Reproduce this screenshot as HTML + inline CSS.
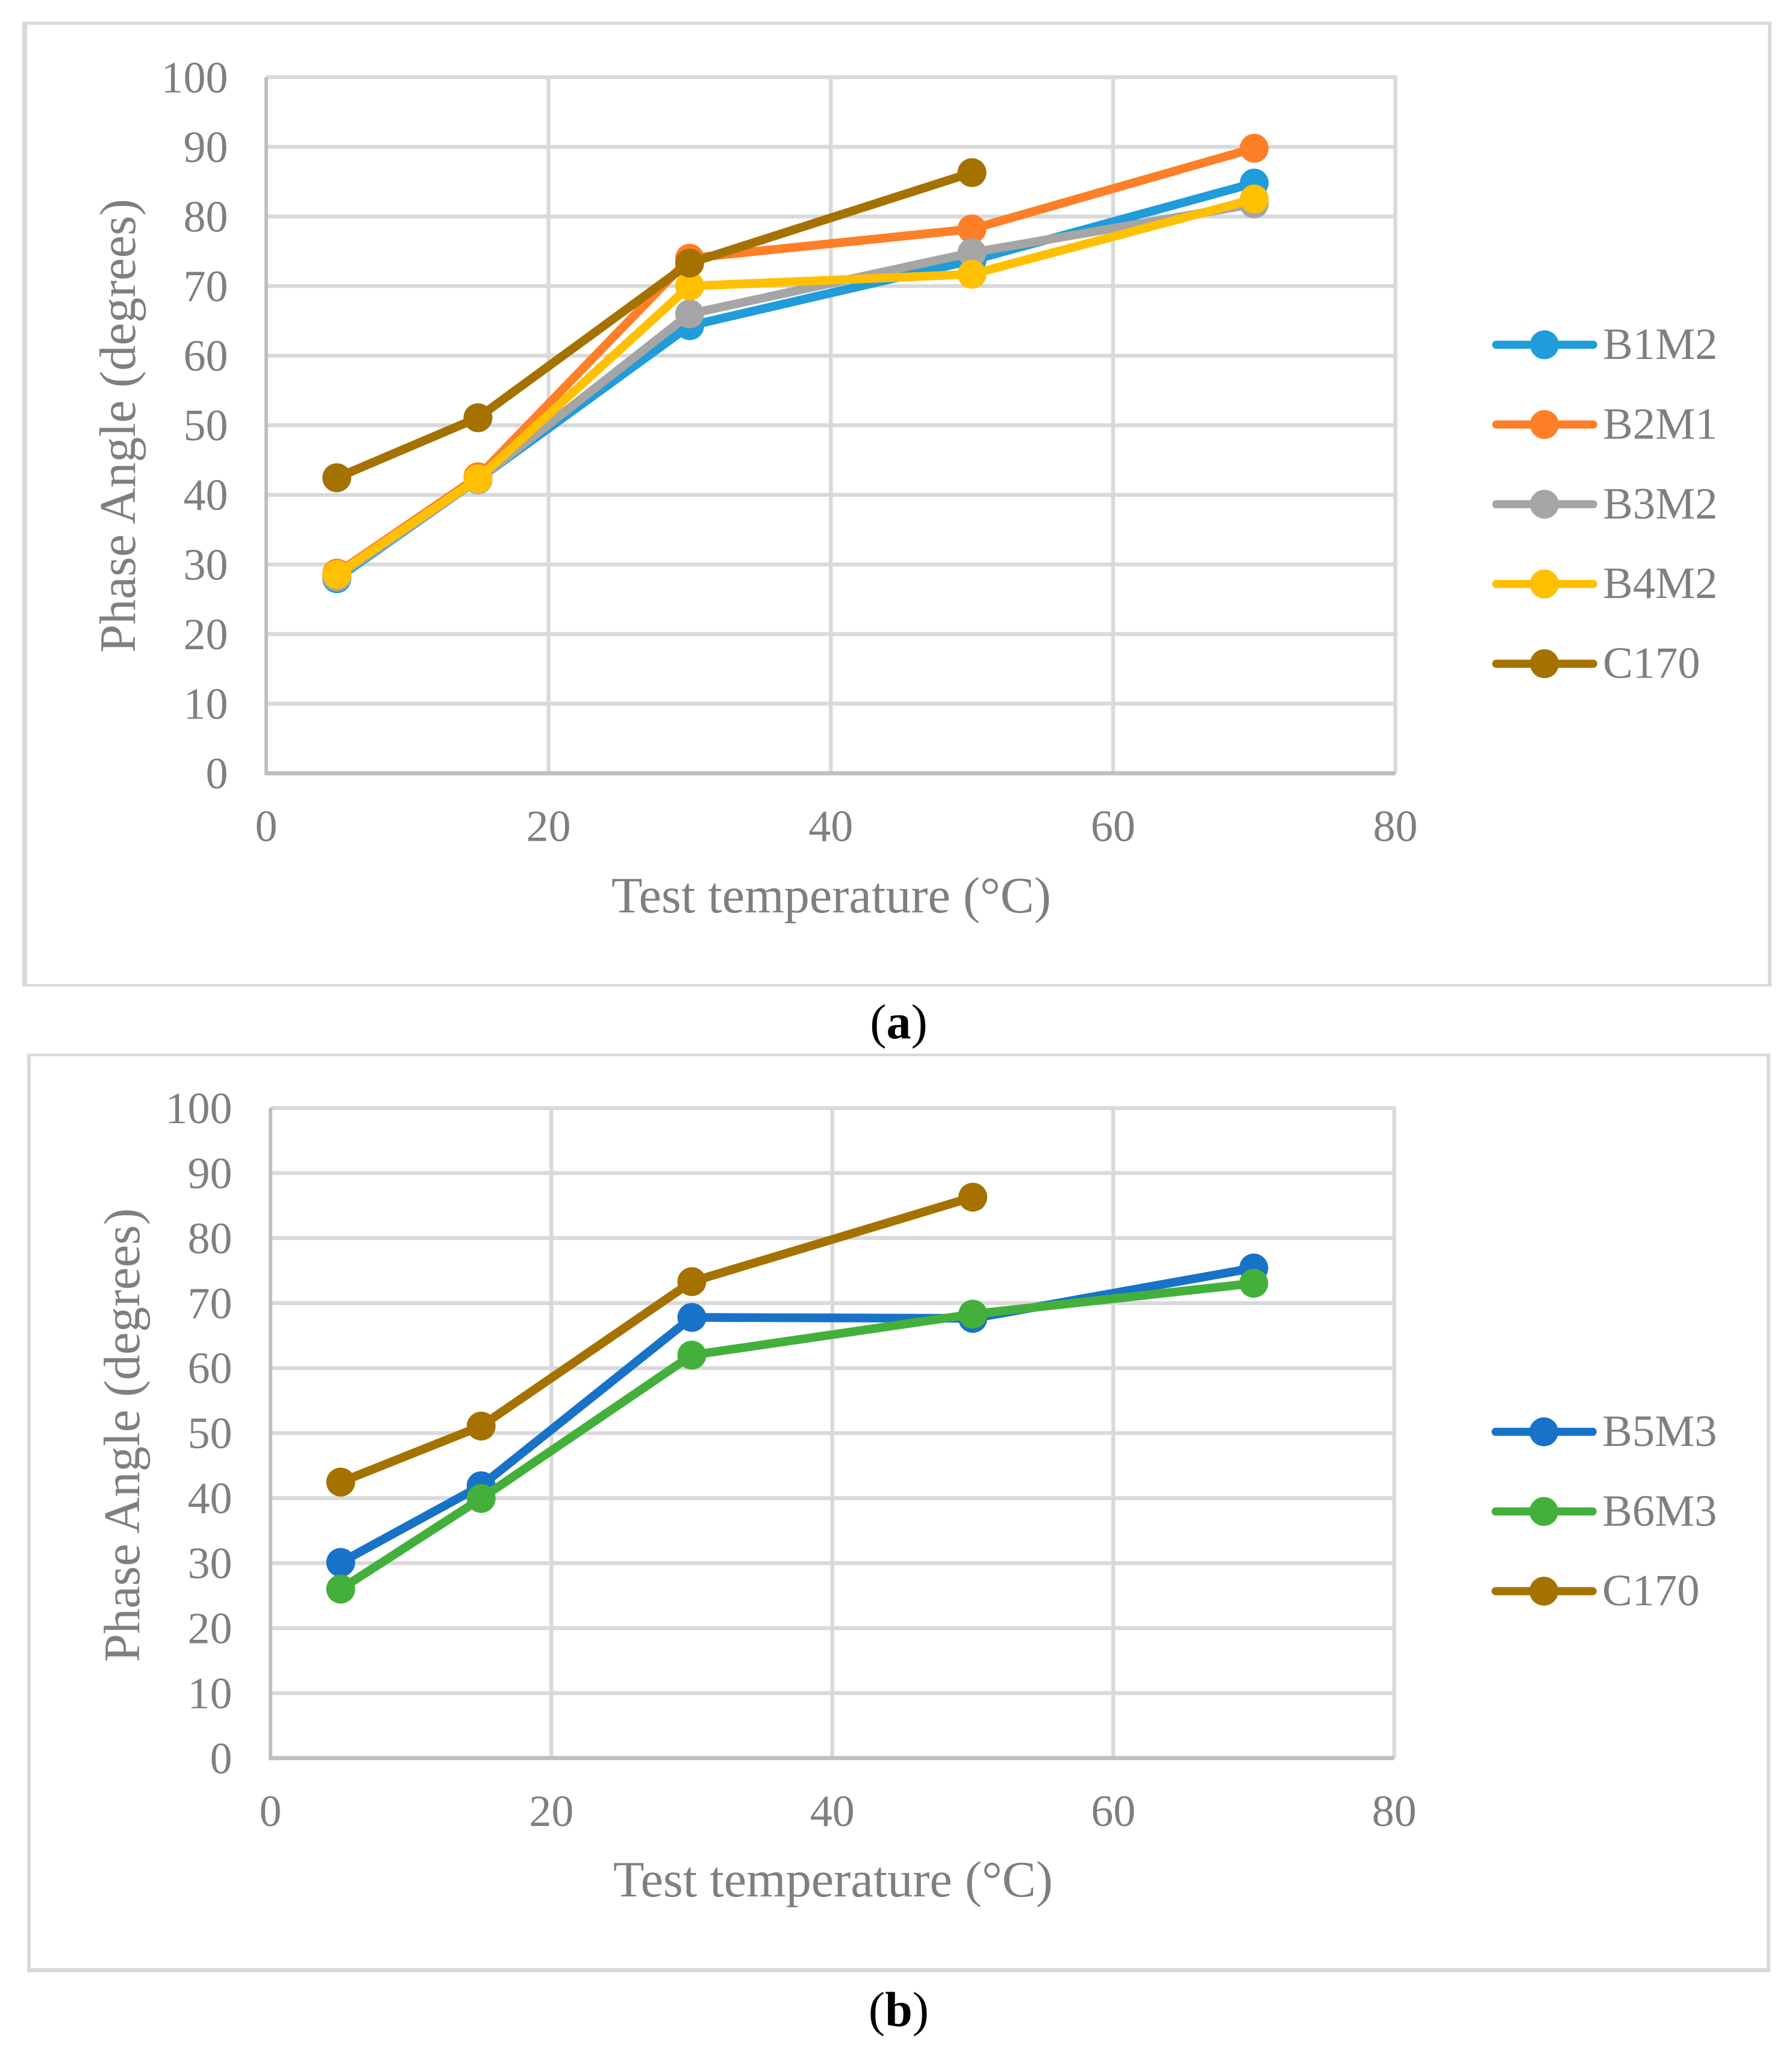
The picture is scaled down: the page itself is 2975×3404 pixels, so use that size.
<!DOCTYPE html>
<html lang="en">
<head>
<meta charset="utf-8">
<title>Phase Angle vs Test Temperature</title>
<style>
  html, body { margin: 0; padding: 0; background: #ffffff; }
  #figure { display: block; width: 2975px; height: 3404px; }
  text { font-family: "Liberation Serif", serif; fill: #7f7f7f; }
  .tick { font-size: 74px; }
  .axis-title { font-size: 84.3px; }
  .legend-text { font-size: 74.5px; }
  .caption { font-size: 82px; fill: #000000; text-anchor: middle; }
  .caption tspan { font-weight: bold; }
</style>
</head>
<body>
<svg id="figure" xmlns="http://www.w3.org/2000/svg" width="2975" height="3404" viewBox="0 0 2975 3404">
  <rect x="0" y="0" width="2975" height="3404" fill="#ffffff"/>
  <g id="chart-a"></g>
  <g id="chart-b"></g>
  <text class="axis-title" x="1380" y="1515" text-anchor="middle">Test temperature (°C)</text>
  <text class="axis-title" transform="translate(224 707) rotate(-90)" text-anchor="middle">Phase Angle (degrees)</text>
  <text class="caption" x="1492" y="1724">(<tspan>a</tspan>)</text>
  <text class="axis-title" x="1383" y="3149" text-anchor="middle">Test temperature (°C)</text>
  <text class="axis-title" transform="translate(231 2383) rotate(-90)" text-anchor="middle">Phase Angle (degrees)</text>
  <text class="caption" x="1492" y="3364">(<tspan>b</tspan>)</text>
</svg>
<script>
// ---- chart data ----
const temperatures = [5, 15, 30, 50, 70];
const xTickLabels = [0, 20, 40, 60, 80];
const yTickLabels = [0, 10, 20, 30, 40, 50, 60, 70, 80, 90, 100];

const seriesB1M2 = [27.95, 42.2, 64.3, 73.7, 84.8];
const seriesB2M1 = [28.75, 42.6, 74.0, 78.2, 89.8];
const seriesB3M2 = [28.2, 42.15, 66.0, 74.8, 81.8];
const seriesB4M2 = [28.55, 42.3, 70.0, 71.7, 82.5];
const seriesC170 = [42.46, 51.08, 73.3, 86.3];
const seriesB5M3 = [30.1, 41.9, 67.8, 67.65, 75.4];
const seriesB6M3 = [26.0, 39.95, 62.0, 68.3, 73.05];

const namesA = ["B1M2", "B2M1", "B3M2", "B4M2", "C170"];
const namesB = ["B5M3", "B6M3", "C170"];
const valuesA = [seriesB1M2, seriesB2M1, seriesB3M2, seriesB4M2, seriesC170];
const valuesB = [seriesB5M3, seriesB6M3, seriesC170];

// ---- styles ----
const seriesColors = {
  B1M2: "#1f9cd9", B2M1: "#fe7f27", B3M2: "#a5a5a5", B4M2: "#ffc000",
  C170: "#a57200", B5M3: "#1872c8", B6M3: "#43b03b"
};
const NS = "http://www.w3.org/2000/svg";

function make(parent, tag, attrs, text) {
  const el = document.createElementNS(NS, tag);
  for (const k in attrs) el.setAttribute(k, attrs[k]);
  if (text !== undefined) el.textContent = text;
  parent.appendChild(el);
  return el;
}

function drawChart(root, layout, names, values) {
  const sx = function (v) { return layout.x0 + (layout.x80 - layout.x0) * v / 80; };
  const sy = function (v) { return layout.y0 + (layout.y100 - layout.y0) * v / 100; };

  // frame
  const f = layout.frame;
  const frameParts = [
    [f.l0, f.t0, f.r1 - f.l0, f.t1 - f.t0],
    [f.l0, f.b0, f.r1 - f.l0, f.b1 - f.b0],
    [f.l0, f.t0, f.l1 - f.l0, f.b1 - f.t0],
    [f.r0, f.t0, f.r1 - f.r0, f.b1 - f.t0]
  ];
  frameParts.forEach(function (p) {
    const r = make(root, "rect", { x: p[0], y: p[1], width: p[2], height: p[3], fill: "#d9d9d9" });
    
    
  });

  // horizontal gridlines
  yTickLabels.forEach(function (v) {
    if (v === 0) return;
    const l = make(root, "line", { x1: sx(0), x2: sx(80), y1: sy(v), y2: sy(v), stroke: "#d9d9d9", "stroke-width": 6.5 });
    
    
  });
  // vertical gridlines
  xTickLabels.forEach(function (v) {
    if (v === 0) return;
    const l = make(root, "line", { x1: sx(v), x2: sx(v), y1: sy(100) - 3.2, y2: sy(0), stroke: "#d9d9d9", "stroke-width": 6.4 });
    
    
  });
  // axes
  const ya = make(root, "line", { x1: sx(0), x2: sx(0), y1: sy(100), y2: sy(0) + 3.4, stroke: "#bfbfbf", "stroke-width": 6 });
  
  
  const xa = make(root, "line", { x1: sx(0), x2: sx(80), y1: sy(0), y2: sy(0), stroke: "#bfbfbf", "stroke-width": 7 });
  
  

  // tick labels
  yTickLabels.forEach(function (v) {
    const t = make(root, "text", { class: "tick", x: sx(0) - 63.5, y: sy(v) + 25, "text-anchor": "end" }, String(v));
    
    
  });
  xTickLabels.forEach(function (v) {
    const t = make(root, "text", { class: "tick", x: sx(v), y: sy(0) + 112.5, "text-anchor": "middle" }, String(v));
    
    
  });

  // series
  names.forEach(function (name, i) {
    const color = seriesColors[name];
    const vals = values[i];
    const g = make(root, "g", {});
    
    
    const pts = vals.map(function (v, j) { return sx(temperatures[j]) + "," + sy(v); }).join(" ");
    const line = make(g, "polyline", { points: pts, fill: "none", stroke: color, "stroke-width": 14.5, "stroke-linejoin": "round" });
    
    
    vals.forEach(function (v, j) {
      const c = make(g, "circle", { cx: sx(temperatures[j]), cy: sy(v), r: 24, fill: color });
      
      
    });
  });

  // legend
  names.forEach(function (name, i) {
    const color = seriesColors[name];
    const y = layout.legendY + i * layout.legendStep;
    const g = make(root, "g", {});
    
    
    const l = make(g, "line", { x1: layout.legendX + 6, x2: layout.legendX + 167, y1: y, y2: y, stroke: color, "stroke-width": 13.5, "stroke-linecap": "round" });
    
    
    const c = make(g, "circle", { cx: layout.legendX + 86, cy: y, r: 24, fill: color });
    
    
    const t = make(g, "text", { class: "legend-text", x: layout.legendX + 183, y: y + 23.5 }, name);
    
    
  });
}

drawChart(document.getElementById("chart-a"), {
  x0: 442, x80: 2316.5, y0: 1284, y100: 128.3,
  legendX: 2478, legendY: 572.5, legendStep: 132.4,
  frame: { l0: 37, l1: 45, r0: 2935, r1: 2941, t0: 36, t1: 41, b0: 1634, b1: 1638 }
}, namesA, valuesA);

drawChart(document.getElementById("chart-b"), {
  x0: 449, x80: 2314.6, y0: 2919.3, y100: 1840,
  legendX: 2477, legendY: 2377.5, legendStep: 132.3,
  frame: { l0: 45, l1: 51, r0: 2933, r1: 2939, t0: 1749.5, t1: 1754, b0: 3268, b1: 3275 }
}, namesB, valuesB);
</script>
</body>
</html>
